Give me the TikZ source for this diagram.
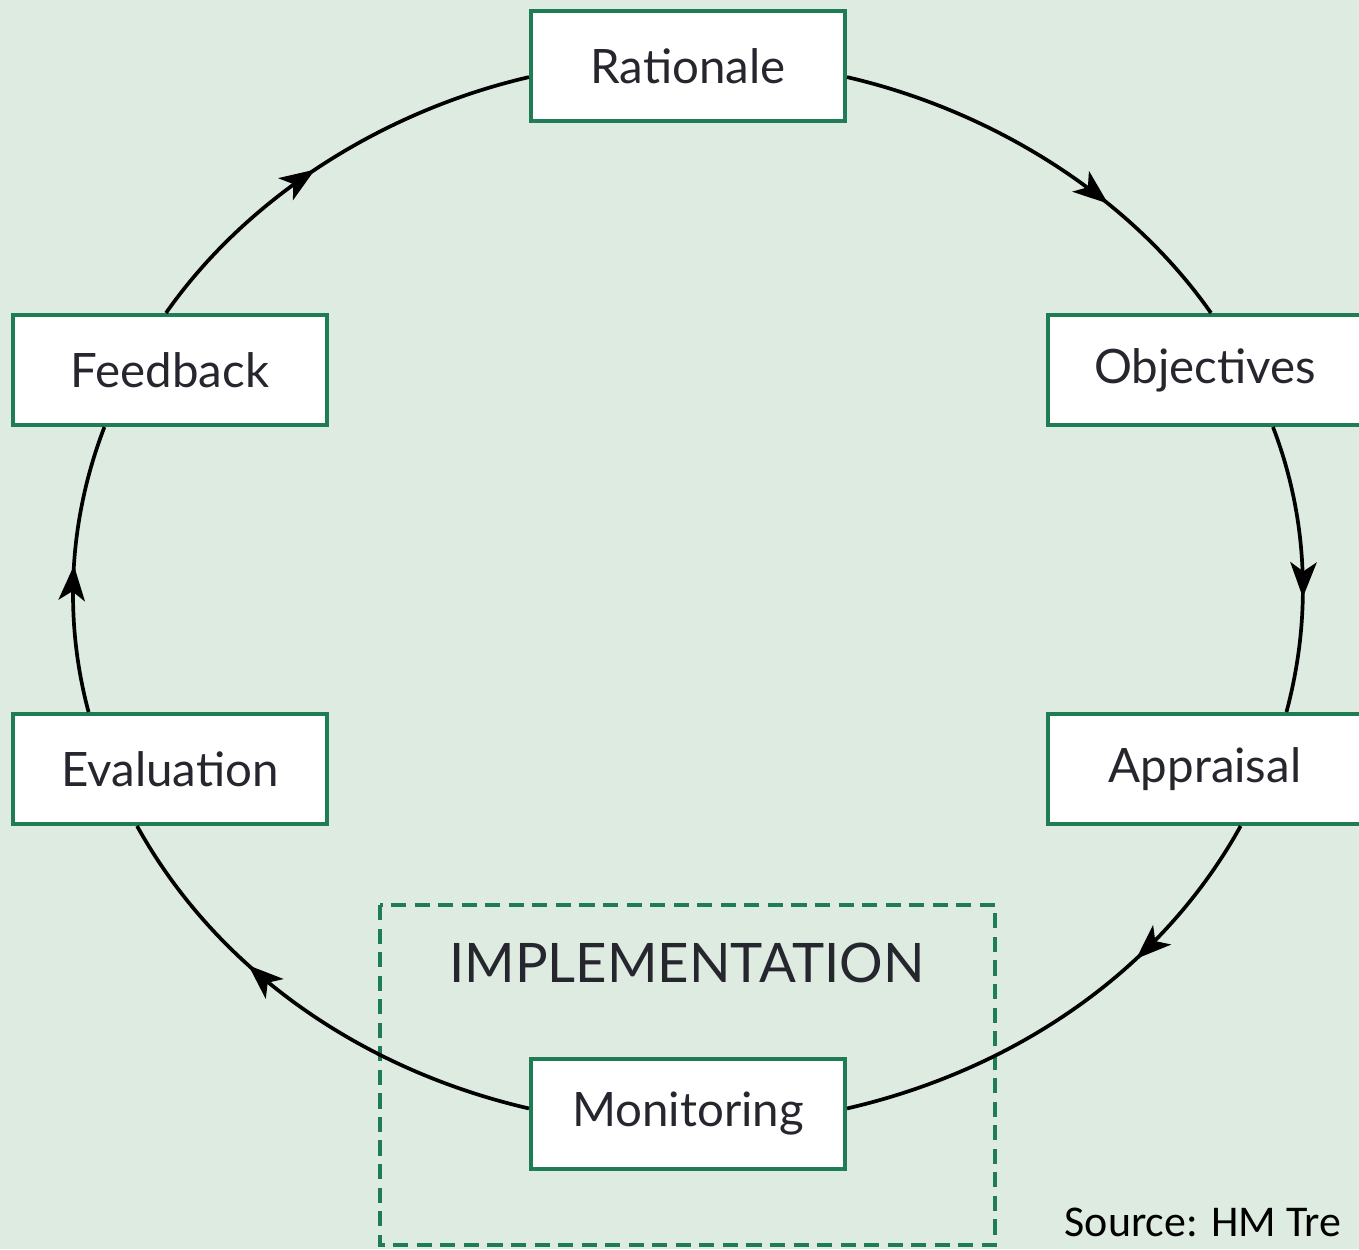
\documentclass[tikz,border=0pt]{standalone}
\usepackage{fontspec}
\setmainfont{Lato}
\newfontfamily\srcfont{Carlito}
\usepackage{xcolor}
\usepackage{tikz}
\usetikzlibrary{shapes,arrows,arrows.meta,positioning,calc,decorations.markings}
\definecolor{bggreen}{RGB}{221,235,224}
\definecolor{boxgreen}{RGB}{32,124,84}
\definecolor{txtgray}{RGB}{38,38,46}

\begin{document}
\begin{tikzpicture}[x=0.1mm,y=0.1mm,
  stage/.style={draw=boxgreen,line width=1.15pt,fill=white,minimum width=3.14cm,minimum height=1.10cm,inner sep=0pt,text=txtgray,font=\fontsize{13.5}{16}\selectfont},
  flow/.style={line width=1.05pt,postaction={decorate},decoration={markings,mark=at position #1 with {\arrow{Stealth[length=10pt,width=7.5pt,inset=2.6pt]}}}},
  flow/.default=0.5]
\useasboundingbox (0,0) rectangle (1359,-1249);
\fill[bggreen] (0,0) rectangle (1359,-1249);
\clip (0,0) rectangle (1359,-1249);
\draw[boxgreen,line width=0.9pt,dash pattern=on 4.3pt off 2.4pt] (380,-905) rectangle (995,-1245);
\node at (687,-982) [anchor=base,text=txtgray,font=\fontsize{15.5}{18}\selectfont] (impl) {IMPLEMENTATION};
\node[stage] (rat) at (688,-66) {Rationale};
\node[stage] (obj) at (1205,-370) {Objectives};
\node[stage] (app) at (1205,-769) {Appraisal};
\node[stage] (mon) at (688,-1114) {Monitoring};
\node[stage] (eva) at (170,-769) {Evaluation};
\node[stage] (fee) at (170,-370) {Feedback};
\draw[flow=0.66] (rat.-4) to[out=-13,in=125,looseness=0.86] (obj.84);
\draw[flow=0.6] (obj.-40) to[out=-69,in=75,looseness=0.88] (app.35);
\draw[flow=0.34] (app.-58) to[out=-119,in=13,looseness=0.89] (mon.2);
\draw[flow=0.64] (mon.178) to[out=167,in=-61,looseness=0.89] (eva.240);
\draw[flow=0.51] (eva.145) to[out=105,in=-111,looseness=0.88] (fee.221);
\draw[flow=0.47] (fee.94) to[out=55,in=193,looseness=0.86] (rat.184);
\node at (1064,-1236) [anchor=base west,inner sep=0pt,font=\srcfont\fontsize{12.5}{15}\selectfont] (src) {Source: HM Tre};
\end{tikzpicture}
\end{document}
